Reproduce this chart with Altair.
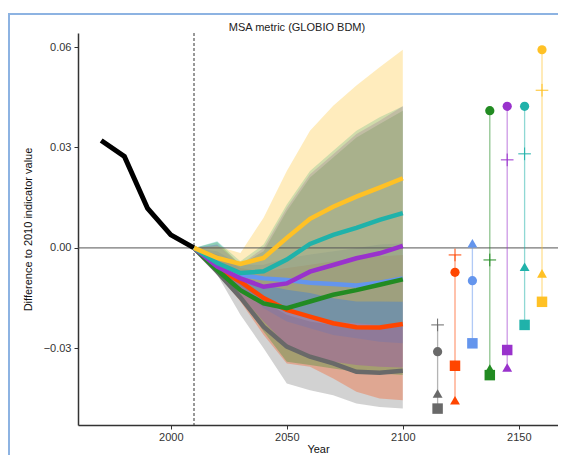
import altair as alt
import pandas as pd

# ---------------- data ----------------
years = [2010, 2020, 2030, 2040, 2050, 2060, 2070, 2080, 2090, 2100]
hist_years = [1970, 1980, 1990, 2000, 2010]
hist_values = [0.0321, 0.0273, 0.0118, 0.0039, 0.0]

scenarios = ["S1", "S2", "S3", "S4", "S5", "S6", "S7"]
colors = ["#696969", "#FF4500", "#6495ED", "#228B22", "#9932CC", "#20B2AA", "#FFC125"]

mean_s1 = [0, -0.0071, -0.0148, -0.0235, -0.0295, -0.0325, -0.0345, -0.0370, -0.0373, -0.0367]
mean_s2 = [0, -0.0061, -0.0101, -0.0150, -0.0185, -0.0205, -0.0225, -0.0237, -0.0238, -0.0227]
mean_s3 = [0, -0.0045, -0.0081, -0.0091, -0.0096, -0.0104, -0.0108, -0.0112, -0.0104, -0.0091]
mean_s4 = [0, -0.0066, -0.0126, -0.0166, -0.0180, -0.0160, -0.0140, -0.0126, -0.0110, -0.0094]
mean_s5 = [0, -0.0056, -0.0091, -0.0116, -0.0106, -0.0071, -0.0051, -0.0031, -0.0016, 0.0006]
mean_s6 = [0, -0.0045, -0.0075, -0.0070, -0.0035, 0.0012, 0.0039, 0.0060, 0.0084, 0.0104]
mean_s7 = [0, -0.0030, -0.0048, -0.0030, 0.0030, 0.0087, 0.0123, 0.0153, 0.0180, 0.0208]

low_s1 = [0, -0.0080, -0.0200, -0.0300, -0.0405, -0.0425, -0.0440, -0.0465, -0.0475, -0.0480]
low_s2 = [0, -0.0075, -0.0160, -0.0260, -0.0345, -0.0355, -0.0390, -0.0430, -0.0450, -0.0455]
low_s3 = [0, -0.0070, -0.0120, -0.0180, -0.0220, -0.0240, -0.0260, -0.0270, -0.0280, -0.0285]
low_s4 = [0, -0.0075, -0.0150, -0.0250, -0.0340, -0.0350, -0.0360, -0.0370, -0.0375, -0.0380]
low_s5 = [0, -0.0070, -0.0140, -0.0220, -0.0290, -0.0320, -0.0340, -0.0350, -0.0355, -0.0357]
low_s6 = [0, -0.0060, -0.0110, -0.0160, -0.0190, -0.0210, -0.0220, -0.0225, -0.0230, -0.0230]
low_s7 = [0, -0.0050, -0.0090, -0.0110, -0.0125, -0.0135, -0.0150, -0.0160, -0.0160, -0.0161]

high_s1 = [0, -0.0040, -0.0100, -0.0160, -0.0200, -0.0220, -0.0230, -0.0235, -0.0235, -0.0230]
high_s2 = [0, -0.0020, -0.0060, -0.0070, -0.0060, -0.0050, -0.0040, -0.0030, -0.0025, -0.0021]
high_s3 = [0, -0.0010, -0.0050, -0.0050, -0.0030, -0.0020, -0.0010, 0.0000, 0.0010, 0.0014]
high_s4 = [0, 0.0018, -0.0050, -0.0010, 0.0110, 0.0210, 0.0270, 0.0330, 0.0370, 0.0410]
high_s5 = [0, 0.0010, -0.0050, 0.0000, 0.0120, 0.0220, 0.0280, 0.0340, 0.0380, 0.0423]
high_s6 = [0, 0.0020, -0.0040, 0.0010, 0.0130, 0.0230, 0.0290, 0.0350, 0.0390, 0.0423]
high_s7 = [0, 0.0005, -0.0015, 0.0090, 0.0230, 0.0350, 0.0425, 0.0485, 0.0540, 0.0592]

means = [mean_s1, mean_s2, mean_s3, mean_s4, mean_s5, mean_s6, mean_s7]
lows = [low_s1, low_s2, low_s3, low_s4, low_s5, low_s6, low_s7]
highs = [high_s1, high_s2, high_s3, high_s4, high_s5, high_s6, high_s7]

marker_years = [2115, 2122.5, 2130, 2137.5, 2145, 2152.5, 2160]
plus_values = [-0.0230, -0.0021, None, -0.0036, 0.0263, 0.0281, 0.0471]
circle_values = [-0.0310, -0.0073, -0.0098, 0.0410, 0.0423, 0.0423, 0.0592]
triangle_values = [-0.0435, -0.0455, 0.0014, -0.0360, -0.0357, -0.0056, -0.0076]
square_values = [-0.0480, -0.0352, -0.0285, -0.0380, -0.0305, -0.0230, -0.0161]

title_text = "MSA metric (GLOBIO BDM)"

# ---------------- tables ----------------
rows = []
for i, s in enumerate(scenarios):
    for j, yr in enumerate(years):
        rows.append({"scenario": s, "year": yr, "mean": means[i][j],
                     "lo": lows[i][j], "hi": highs[i][j]})
df = pd.DataFrame(rows)
hist_df = pd.DataFrame({"year": hist_years, "value": hist_values})

mk_rows = []
range_rows = []
for i, s in enumerate(scenarios):
    vals = []
    for shape, arr in [("plus", plus_values), ("circle", circle_values),
                       ("triangle-up", triangle_values), ("square", square_values)]:
        v = arr[i]
        if v is None:
            continue
        vals.append(v)
        mk_rows.append({"scenario": s, "year": marker_years[i], "value": v, "shape": shape})
    range_rows.append({"scenario": s, "year": marker_years[i], "lo": min(vals), "hi": max(vals)})
mk_df = pd.DataFrame(mk_rows)
range_df = pd.DataFrame(range_rows)

# ---------------- chart ----------------
W, H = 480, 392
X0, X1 = 1960, 1960 + W / 2.32
xscale = alt.Scale(domain=[X0, X1], nice=False, zero=False)
yscale = alt.Scale(domain=[-0.0529, 0.0642], nice=False, zero=False)
cscale = alt.Scale(domain=scenarios, range=colors)

xaxis = alt.Axis(values=[2000, 2050, 2100, 2150], format="d", title="Year",
                 grid=False, tickSize=4, labelPadding=2, titleY=24,
                 titleBaseline="middle")
yaxis = alt.Axis(values=[-0.03, 0.0, 0.03, 0.06], format=".2f",
                 title="Difference to 2010 indicator value", grid=False,
                 tickSize=4, labelPadding=3, titleX=-50, titleY=196,
                 titleAngle=-90, titleAlign="center", titleBaseline="middle")

base = alt.Chart(df)

bands = base.mark_area(opacity=0.3, clip=True).encode(
    x=alt.X("year:Q", scale=xscale, axis=xaxis),
    y=alt.Y("lo:Q", scale=yscale, axis=yaxis),
    y2="hi:Q",
    color=alt.Color("scenario:N", scale=cscale, legend=None),
    detail="scenario:N",
)

zero_rule = alt.Chart(pd.DataFrame({"v": [0.0]})).mark_rule(
    color="#555555", strokeWidth=1).encode(y=alt.Y("v:Q", scale=yscale))

dash_rule = alt.Chart(pd.DataFrame({"t": [2010]})).mark_rule(
    color="#333333", strokeWidth=1, strokeDash=[3, 2]).encode(x=alt.X("t:Q", scale=xscale))

hist_line = alt.Chart(hist_df).mark_line(color="black", strokeWidth=5).encode(
    x=alt.X("year:Q", scale=xscale), y=alt.Y("value:Q", scale=yscale))

lines = base.mark_line(strokeWidth=4.5).encode(
    x=alt.X("year:Q", scale=xscale),
    y=alt.Y("mean:Q", scale=yscale),
    color=alt.Color("scenario:N", scale=cscale, legend=None),
)

ranges = alt.Chart(range_df).mark_rule(strokeWidth=1.3, opacity=0.5).encode(
    x=alt.X("year:Q", scale=xscale),
    y=alt.Y("lo:Q", scale=yscale), y2="hi:Q",
    color=alt.Color("scenario:N", scale=cscale, legend=None),
)

filled_pts = alt.Chart(mk_df).transform_filter(alt.datum.shape != "plus").mark_point(
    filled=True, opacity=1).encode(
    x=alt.X("year:Q", scale=xscale),
    y=alt.Y("value:Q", scale=yscale),
    color=alt.Color("scenario:N", scale=cscale, legend=None),
    shape=alt.Shape("shape:N", scale=alt.Scale(domain=["circle", "triangle-up", "square"],
                                               range=["circle", "triangle-up", "square"]),
                    legend=None),
    size=alt.Size("shape:N", scale=alt.Scale(domain=["circle", "triangle-up", "square"],
                                             range=[85, 110, 70]), legend=None),
)

plus_pts = alt.Chart(mk_df).transform_filter(alt.datum.shape == "plus").mark_point(
    shape="M-1,0H1M0,-1V1", filled=False, size=160, strokeWidth=1, opacity=1).encode(
    x=alt.X("year:Q", scale=xscale),
    y=alt.Y("value:Q", scale=yscale),
    color=alt.Color("scenario:N", scale=cscale, legend=None),
)

one_df = pd.DataFrame({"k": [1]})
title_mark = alt.Chart(one_df).mark_text(
    text=title_text, font="Liberation Sans", fontSize=11, color="#222222",
    align="center", baseline="middle").encode(x=alt.value(219), y=alt.value(-5))
frame = alt.Chart(one_df).mark_rect(
    fillOpacity=0, stroke="#8DB3E2", strokeWidth=2).encode(
    x=alt.value(-69), x2=alt.value(W + 30), y=alt.value(-19), y2=alt.value(H + 60))

chart = alt.layer(
    bands, zero_rule, dash_rule, hist_line, lines, ranges, filled_pts, plus_pts,
    title_mark, frame
).properties(
    width=W, height=H,
    autosize=alt.AutoSizeParams(type="none"),
    padding={"left": 70, "top": 25, "right": 0, "bottom": 30},
).configure_view(stroke=None).configure_axis(
    labelFont="Liberation Sans", titleFont="Liberation Sans",
    labelFontSize=11, titleFontSize=11, titleFontWeight="normal",
    labelColor="#333333", titleColor="#111111",
    domainColor="#333333", domainWidth=1.5, tickColor="#333333", tickWidth=1,
)

chart.save("out.html", embed_options={"renderer": "svg", "actions": False})
